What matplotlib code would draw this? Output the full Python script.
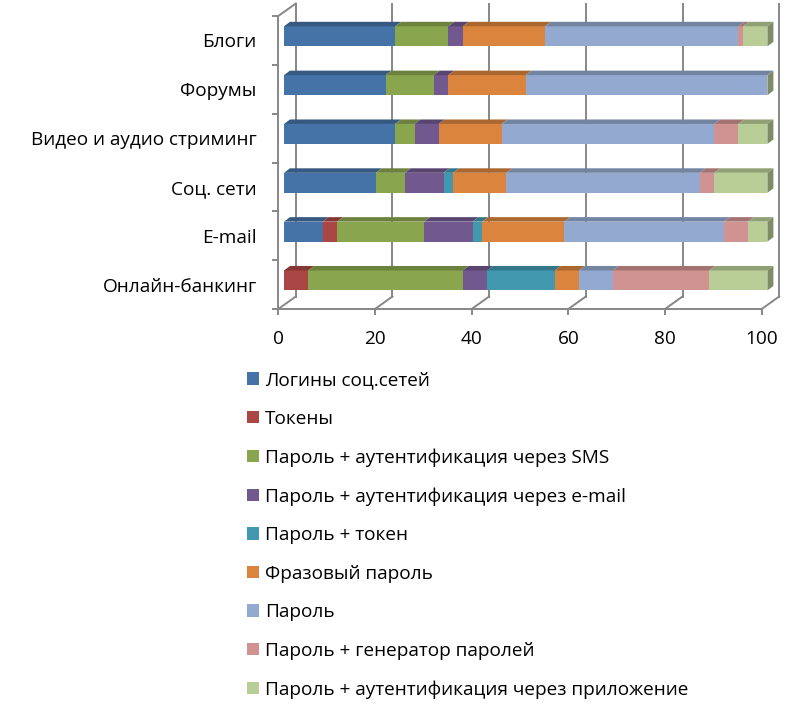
import numpy as np
import matplotlib
matplotlib.use('Agg')
import matplotlib.pyplot as plt
from matplotlib import transforms
from matplotlib.patches import Polygon
from matplotlib.lines import Line2D

plt.rcParams['font.family'] = ['Open Sans', 'DejaVu Sans']

categories = ['Блоги', 'Форумы', 'Видео и аудио стриминг', 'Соц. сети', 'E-mail', 'Онлайн-банкинг']

series_names = ['Логины соц.сетей', 'Токены', 'Пароль + аутентификация через SMS',
                'Пароль + аутентификация через e-mail', 'Пароль + токен', 'Фразовый пароль',
                'Пароль', 'Пароль + генератор паролей', 'Пароль + аутентификация через приложение']

logins = [23, 21, 23, 19, 8, 0]
tokens = [0, 0, 0, 0, 3, 5]
sms = [11, 10, 4, 6, 18, 32]
email = [3, 3, 5, 8, 10, 5]
pass_token = [0, 0, 0, 2, 2, 14]
phrase = [17, 16, 13, 11, 17, 5]
password = [40, 50, 44, 40, 33, 7]
generator = [1, 0, 5, 3, 5, 20]
app = [5, 0, 6, 11, 4, 12]

series = [logins, tokens, sms, email, pass_token, phrase, password, generator, app]
colors = ['#4572A7', '#AA4643', '#89A54E', '#71588F', '#4198AF',
          '#DB843D', '#93A9CF', '#D19392', '#B9CD96']

gray = '#878787'
FS = 13.7


def shade(c, k):
    r, g, b = matplotlib.colors.to_rgb(c)
    return (r * k, g * k, b * k)


W, H = 801, 715
fig = plt.figure(figsize=(W / 100, H / 100), dpi=100)
ax = fig.add_axes([278.3 / W, (H - 309) / H, 483.4 / W, 293 / H])
ax.set_xlim(0, 100)
ax.set_ylim(6, 0)

# front of the bars sits a bit behind the front plane, back wall further behind
bar_off = transforms.offset_copy(ax.transData, fig=fig, x=5.7, y=4.1, units='dots')
wall_off = transforms.offset_copy(ax.transData, fig=fig, x=17.5, y=12.5, units='dots')
depth = np.array([17.5, 12.5])
top_d = np.array([6.0, 4.5])
ident = transforms.IdentityTransform()

ypos = np.arange(len(categories)) + 0.5
bh = 0.41
left = np.zeros(len(categories))
handles = []
for name, vals, col in zip(series_names, series, colors):
    vals = np.array(vals, dtype=float)
    b = ax.barh(ypos, vals, left=left, height=bh, color=col, linewidth=0,
                transform=bar_off, label=name, zorder=3, clip_on=False)
    handles.append(b)
    # top faces
    for i in range(len(categories)):
        if vals[i] <= 0:
            continue
        p0 = bar_off.transform((left[i], ypos[i] - bh / 2))
        p1 = bar_off.transform((left[i] + vals[i], ypos[i] - bh / 2))
        poly = Polygon([p0, p1, p1 + top_d, p0 + top_d], closed=True, transform=ident,
                       facecolor=shade(col, 0.78), linewidth=0, clip_on=False, zorder=3)
        ax.add_patch(poly)
    left += vals

# side faces at the end of each bar
for i in range(len(categories)):
    pt = bar_off.transform((left[i], ypos[i] - bh / 2))
    pb = bar_off.transform((left[i], ypos[i] + bh / 2))
    poly = Polygon([pt, pb, pb + top_d, pt + top_d], closed=True, transform=ident,
                   facecolor=shade(colors[-1], 0.68), linewidth=0, clip_on=False, zorder=3)
    ax.add_patch(poly)

# back wall gridlines and floor diagonals
xt = np.arange(0, 101, 20)
for v in xt:
    ax.plot([v, v], [0, 6], transform=wall_off, color=gray, lw=1.4, zorder=1, clip_on=False)
    p = ax.transData.transform((v, 6))
    fig.add_artist(Line2D([p[0], p[0] + depth[0]], [p[1], p[1] + depth[1]],
                          transform=ident, color=gray, lw=1.4))
p = ax.transData.transform((0, 0))
fig.add_artist(Line2D([p[0], p[0] + depth[0]], [p[1], p[1] + depth[1]],
                      transform=ident, color=gray, lw=1.4))

for s in ['top', 'right']:
    ax.spines[s].set_visible(False)
for s in ['left', 'bottom']:
    ax.spines[s].set_color(gray)
    ax.spines[s].set_linewidth(1.4)
ax.patch.set_visible(False)

ax.set_xticks(xt)
ax.set_xticklabels([str(v) for v in xt], fontsize=FS)
ax.tick_params(axis='x', length=4.5, width=1.4, color=gray, pad=10.5)

ax.set_yticks(range(7))
ax.set_yticklabels([''] * 7)
ax.set_yticks(ypos, minor=True)
ax.set_yticklabels(categories, minor=True, fontsize=FS)
ax.tick_params(axis='y', which='major', length=4.5, width=1.4, color=gray)
ax.tick_params(axis='y', which='minor', length=0, pad=15.5)

fig.legend(handles=handles, labels=series_names, loc='upper left',
           bbox_to_anchor=(247 / W, 1 - 371 / H), frameon=False, fontsize=FS,
           handlelength=0.63, handleheight=0.63, handletextpad=0.32,
           labelspacing=1.08, borderpad=0, borderaxespad=0)

fig.savefig('out.png', dpi=100)
